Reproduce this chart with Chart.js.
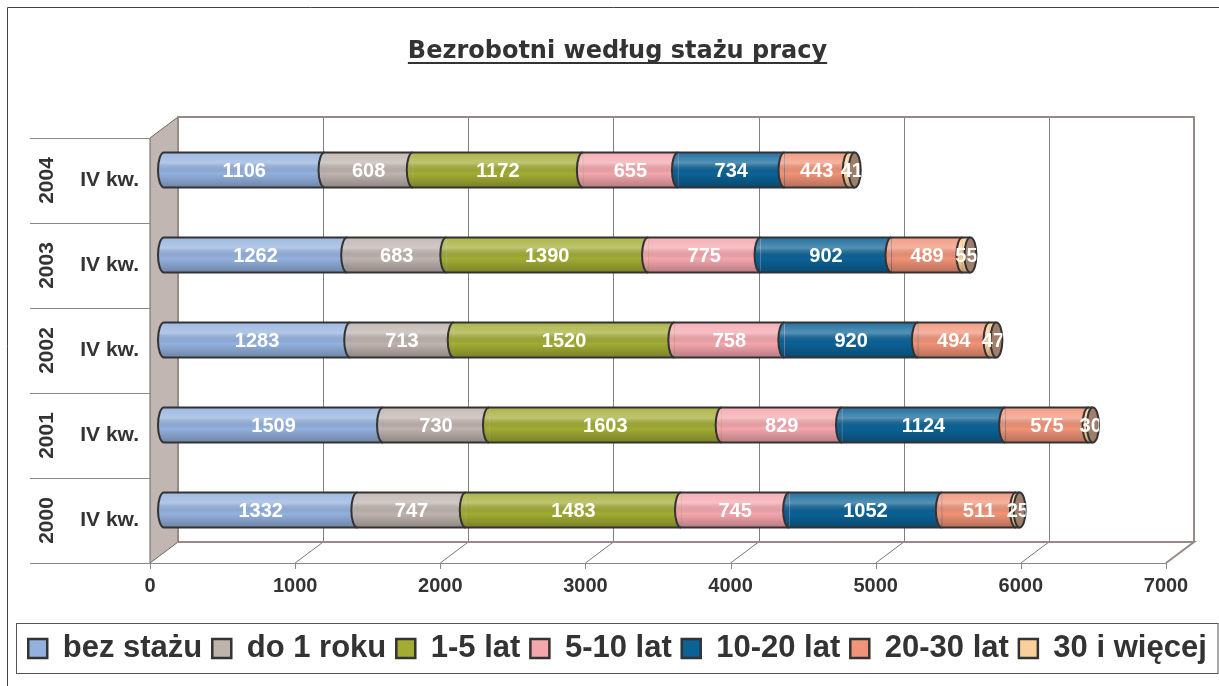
<!DOCTYPE html>
<html>
<head>
<meta charset="utf-8">
<script src="https://cdn.jsdelivr.net/npm/chart.js@4.4.1/dist/chart.umd.min.js"></script>
<style>
  html, body { margin: 0; padding: 0; background: #fff; }
  #wrap { position: relative; width: 1219px; height: 686px; }
</style>
</head>
<body>
<div id="wrap">
  <canvas id="chart" width="1219" height="686"></canvas>
</div>
<script>
// data (rows bottom -> top)
const years = ['2000', '2001', '2002', '2003', '2004'];
const quarters = ['IV kw.', 'IV kw.', 'IV kw.', 'IV kw.', 'IV kw.'];
const seriesNames = ['bez stażu', 'do 1 roku', '1-5 lat', '5-10 lat', '10-20 lat', '20-30 lat', '30 i więcej'];
const bezStazu = [1332, 1509, 1283, 1262, 1106];
const do1Roku = [747, 730, 713, 683, 608];
const lat1do5 = [1483, 1603, 1520, 1390, 1172];
const lat5do10 = [745, 829, 758, 775, 655];
const lat10do20 = [1052, 1124, 920, 902, 734];
const lat20do30 = [511, 575, 494, 489, 443];
const lat30plus = [25, 30, 47, 55, 41];
const xTickLabels = ['0', '1000', '2000', '3000', '4000', '5000', '6000', '7000'];
const xMax = 7000;
const xStep = 1000;

const colors = ['#93b1de', '#bfb3ae', '#a2ac33', '#f4a6ad', '#0b6296', '#f19377', '#fbcf9a'];
const capColor = '#a07e6c';
const textColor = '#333333';

// half depth of the 3D box (bars sit in the middle)
const DX = 14, DY = 10.5;

const seriesValues = [bezStazu, do1Roku, lat1do5, lat5do10, lat10do20, lat20do30, lat30plus];

// walls, floor, gridlines, category separators
const wallsPlugin = {
  id: 'walls',
  beforeDraw(chart) {
    const ctx = chart.ctx;
    ctx.save();
    ctx.strokeStyle = '#444';
    ctx.lineWidth = 1;
    ctx.beginPath();
    ctx.moveTo(7.5, chart.height);
    ctx.lineTo(7.5, 7.5);
    ctx.lineTo(chart.width, 7.5);
    ctx.stroke();
    ctx.restore();
  },
  beforeDatasetsDraw(chart) {
    const ctx = chart.ctx;
    const ca = chart.chartArea;
    const xs = chart.scales.x;
    const fl = ca.left - DX, fr = ca.right - DX, ft = ca.top + DY, fb = ca.bottom + DY;
    const bl = ca.left + DX, br = ca.right + DX, bt = ca.top - DY, bb = ca.bottom - DY;
    ctx.save();

    // back wall gridlines + floor diagonals
    for (let v = xStep; v < xMax; v += xStep) {
      const px = xs.getPixelForValue(v);
      ctx.strokeStyle = '#808080';
      ctx.lineWidth = 1;
      ctx.beginPath();
      ctx.moveTo(Math.round(px + DX) + 0.5, bt);
      ctx.lineTo(Math.round(px + DX) + 0.5, bb);
      ctx.stroke();
      ctx.strokeStyle = '#555';
      ctx.lineWidth = 0.8;
      ctx.beginPath();
      ctx.moveTo(px + DX, bb);
      ctx.lineTo(px - DX, fb);
      ctx.stroke();
    }

    // left side wall
    ctx.fillStyle = '#c1b6b1';
    ctx.strokeStyle = '#666';
    ctx.lineWidth = 1;
    ctx.beginPath();
    ctx.moveTo(fl, ft);
    ctx.lineTo(bl, bt);
    ctx.lineTo(bl, bb);
    ctx.lineTo(fl, fb);
    ctx.closePath();
    ctx.fill();
    ctx.stroke();

    // back wall frame
    ctx.strokeStyle = '#978986';
    ctx.lineWidth = 2;
    ctx.strokeRect(bl, bt, br - bl, bb - bt);

    // floor
    ctx.beginPath();
    ctx.moveTo(bl, bb);
    ctx.lineTo(br, bb);
    ctx.lineTo(fr, fb);
    ctx.stroke();
    ctx.strokeStyle = '#888';
    ctx.lineWidth = 1;
    ctx.beginPath();
    ctx.moveTo(fl, fb + 0.5);
    ctx.lineTo(fr, fb + 0.5);
    ctx.stroke();

    // tick marks on the front edge
    for (let v = 0; v <= xMax; v += xStep) {
      const px = Math.round(xs.getPixelForValue(v) - DX) + 0.5;
      ctx.beginPath();
      ctx.moveTo(px, fb);
      ctx.lineTo(px, fb + 6);
      ctx.stroke();
    }

    // category separators on the left
    const band = ca.height / years.length;
    ctx.strokeStyle = '#888';
    for (let k = 0; k <= years.length; k++) {
      const yy = Math.round(ca.top + DY + k * band) + 0.5;
      ctx.beginPath();
      ctx.moveTo(30, yy);
      ctx.lineTo(fl, yy);
      ctx.stroke();
    }
    ctx.restore();
  },
  afterDraw(chart) {
    const ctx = chart.ctx;
    const ys = chart.scales.y;
    ctx.save();
    // years, rotated
    ctx.fillStyle = textColor;
    ctx.font = 'bold 21px "Liberation Sans", Arial, sans-serif';
    ctx.textAlign = 'center';
    ctx.textBaseline = 'middle';
    years.forEach((yr, i) => {
      const cy = ys.getPixelForValue(i) + DY;
      ctx.save();
      ctx.translate(47.5, cy);
      ctx.rotate(-Math.PI / 2);
      ctx.fillText(yr, 0, 0);
      ctx.restore();
    });

    // title underline
    const tb = chart.titleBlock;
    const topt = chart.options.plugins.title;
    ctx.font = 'bold ' + topt.font.size + 'px ' + topt.font.family;
    const tw = ctx.measureText(topt.text).width;
    const mid = (tb.left + tb.right) / 2;
    const ty = tb.top + topt.padding.top + topt.font.size * 1.2 / 2 + 10;
    ctx.fillStyle = textColor;
    ctx.fillRect(mid - tw / 2, ty, tw, 2);

    // legend frame
    const lg = chart.legend;
    ctx.strokeStyle = '#555';
    ctx.lineWidth = 1;
    ctx.strokeRect(lg.left + 0.5, lg.top + 0.5, lg.width - 1.5, lg.height - 1);
    ctx.restore();
  }
};

// cylinder look + value labels
const cylinderPlugin = {
  id: 'cylinders',
  afterDatasetsDraw(chart) {
    const ctx = chart.ctx;
    const n = chart.data.datasets.length;
    ctx.save();
    for (let i = 0; i < years.length; i++) {
      const els = [];
      for (let j = 0; j < n; j++) els.push(chart.getDatasetMeta(j).data[i]);
      const first = els[0], last = els[n - 1];
      const h = first.height, cy = first.y, top = cy - h / 2;
      const start = first.base, end = last.x;
      const rx = 6, ry = h / 2;

      // curved left end of each segment
      for (let j = 0; j < n; j++) {
        ctx.beginPath();
        ctx.ellipse(els[j].base, cy, rx, ry, 0, Math.PI / 2, Math.PI * 1.5);
        ctx.closePath();
        ctx.fillStyle = colors[j];
        ctx.fill();
      }

      // shading
      ctx.save();
      ctx.beginPath();
      ctx.ellipse(start, cy, rx, ry, 0, 0, Math.PI * 2);
      ctx.rect(start, top, end - start, h);
      ctx.clip();
      const g = ctx.createLinearGradient(0, top, 0, top + h);
      g.addColorStop(0, 'rgba(255,255,255,0.10)');
      g.addColorStop(0.3, 'rgba(255,255,255,0.30)');
      g.addColorStop(0.6, 'rgba(0,0,0,0.0)');
      g.addColorStop(1, 'rgba(0,0,0,0.25)');
      ctx.fillStyle = g;
      ctx.fillRect(start - rx, top, end - start + rx, h);
      ctx.restore();

      // outlines
      ctx.strokeStyle = '#333';
      ctx.lineWidth = 2;
      ctx.beginPath();
      ctx.moveTo(start, top);
      ctx.lineTo(end, top);
      ctx.moveTo(start, top + h);
      ctx.lineTo(end, top + h);
      ctx.stroke();
      for (let j = 0; j < n; j++) {
        ctx.beginPath();
        ctx.ellipse(els[j].base, cy, rx, ry, 0, Math.PI / 2, Math.PI * 1.5);
        ctx.stroke();
      }
      // end cap
      ctx.beginPath();
      ctx.ellipse(end, cy, rx, ry, 0, 0, Math.PI * 2);
      ctx.fillStyle = capColor;
      ctx.fill();
      ctx.stroke();

      // labels
      ctx.save();
      ctx.beginPath();
      ctx.rect(0, top - 5, end + rx, h + 10);
      ctx.clip();
      ctx.fillStyle = '#ffffff';
      ctx.font = 'bold 20px "Liberation Sans", Arial, sans-serif';
      ctx.textAlign = 'center';
      ctx.textBaseline = 'middle';
      for (let j = 0; j < n; j++) {
        const el = els[j];
        ctx.fillText(String(seriesValues[j][i]), (el.base + el.x) / 2, cy + 1);
      }
      ctx.restore();
    }
    ctx.restore();
  }
};

const ctx = document.getElementById('chart').getContext('2d');
const chart = new Chart(ctx, {
  type: 'bar',
  data: {
    labels: years,
    datasets: seriesNames.map((name, j) => ({
      label: name,
      data: seriesValues[j],
      backgroundColor: colors[j],
      borderWidth: 0,
      barThickness: 35
    }))
  },
  options: {
    indexAxis: 'y',
    responsive: false,
    animation: false,
    events: [],
    layout: { padding: { top: 8, left: 16, right: 0, bottom: 12 } },
    scales: {
      x: {
        stacked: true,
        min: 0,
        max: xMax,
        grid: { display: false, drawTicks: false },
        border: { display: false },
        ticks: {
          stepSize: xStep,
          padding: 22,
          labelOffset: -DX,
          color: textColor,
          font: { family: '"Liberation Sans", Arial, sans-serif', size: 20, weight: 'bold' },
          callback: (v, i) => xTickLabels[i]
        },
        afterFit(s) {
          s.height = 70.5;
          s.paddingLeft = 0;
          s.paddingRight = 0;
        }
      },
      y: {
        stacked: true,
        reverse: true,
        grid: { display: false, drawTicks: false },
        border: { display: false },
        ticks: {
          padding: 25,
          labelOffset: DY,
          color: textColor,
          font: { family: '"Liberation Sans", Arial, sans-serif', size: 21, weight: 'bold' },
          callback: (v, i) => quarters[i]
        },
        afterFit(s) { s.width = 148; }
      },
      yRight: {
        type: 'category',
        labels: years,
        position: 'right',
        grid: { display: false, drawTicks: false },
        border: { display: false },
        ticks: { display: false },
        afterFit(s) { s.width = 39; }
      }
    },
    plugins: {
      title: {
        display: true,
        text: 'Bezrobotni według stażu pracy',
        color: textColor,
        font: { family: '"DejaVu Sans"', size: 24, weight: 'bold' },
        padding: { top: 29.6, bottom: 61.1 }
      },
      legend: {
        position: 'bottom',
        labels: {
          boxWidth: 19,
          boxHeight: 19,
          padding: 10,
          color: textColor,
          font: { family: '"Liberation Sans", Arial, sans-serif', size: 31, weight: 'bold' },
          generateLabels(chart) {
            const items = Chart.defaults.plugins.legend.labels.generateLabels(chart);
            items.forEach(it => { it.lineWidth = 2.5; it.strokeStyle = '#333'; });
            return items;
          }
        }
      },
      tooltip: { enabled: false }
    }
  },
  plugins: [wallsPlugin, cylinderPlugin]
});
</script>
</body>
</html>
